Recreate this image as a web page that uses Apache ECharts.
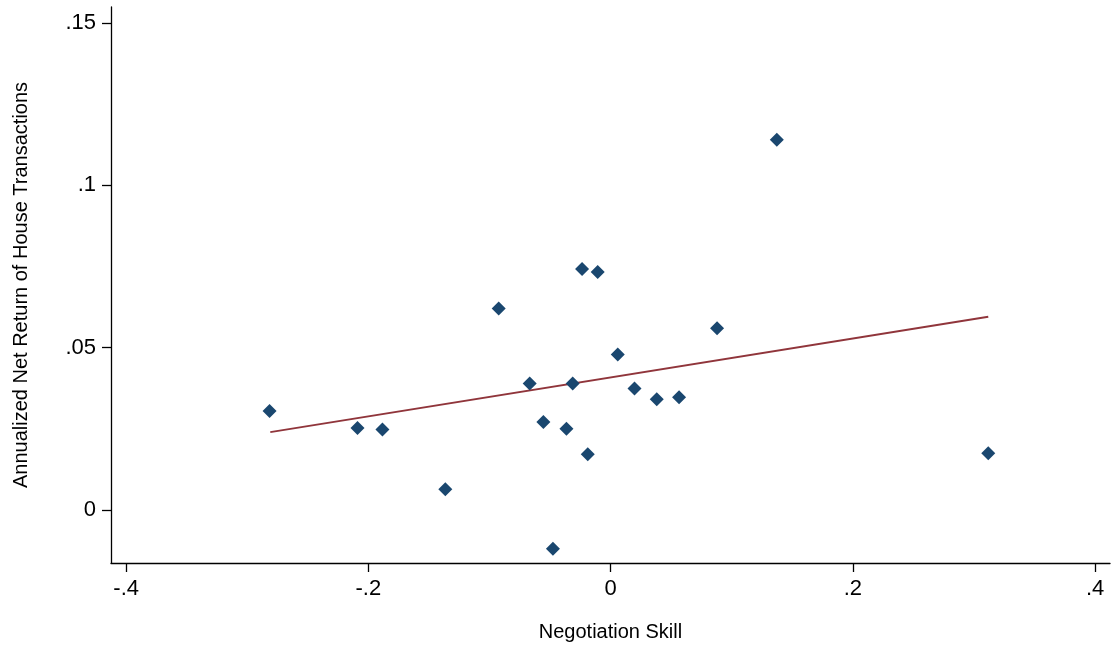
<!DOCTYPE html>
<html>
<head>
<meta charset="utf-8">
<script src="https://cdn.jsdelivr.net/npm/echarts@6/dist/echarts.min.js"></script>
<style>
html,body{margin:0;padding:0;background:#fff;}
#chart{width:1113px;height:648px;}
</style>
</head>
<body>
<div id="chart"></div>
<script>
// Scatter data: negotiation skill (x) vs annualized net return (y)
const skill = [-0.2816, -0.209, -0.1884, -0.1365, -0.0924, -0.0236, -0.0107, 0.0879, 0.0059, -0.0668, -0.0313, 0.0197, 0.0381, 0.0565, -0.0555, -0.0365, -0.0189, -0.0476, 0.1372, 0.3118];
const ret   = [0.0305, 0.0253, 0.0248, 0.0064, 0.0621, 0.0742, 0.0733, 0.0560, 0.0479, 0.0390, 0.0390, 0.0374, 0.0341, 0.0347, 0.0271, 0.0250, 0.0172, -0.0119, 0.1140, 0.0175];
// Fitted line endpoints
const fitX = [-0.281, 0.3118];
const fitY = [0.0240, 0.0595];
// Tick values
const xTicks = [-0.4, -0.2, 0, 0.2, 0.4];
const yTicks = [0, 0.05, 0.1, 0.15];

const fmt = v => {
  const s = String(+v.toFixed(4));
  return s.replace(/^(-?)0\./, '$1.');
};
const FONT = "'Liberation Sans', Arial, Helvetica, sans-serif";

const chart = echarts.init(document.getElementById('chart'), null, {renderer: 'canvas'});
chart.setOption({
  animation: false,
  backgroundColor: '#ffffff',
  grid: {left: 111, right: 3, top: 7, bottom: 85, containLabel: false},
  xAxis: {
    type: 'value',
    min: -0.4125, max: 0.4123,
    name: 'Negotiation Skill',
    nameLocation: 'middle',
    nameGap: 59,
    nameTextStyle: {fontFamily: FONT, fontSize: 20, color: '#000'},
    axisLine: {show: true, onZero: false, lineStyle: {color: '#000', width: 1.3}},
    axisTick: {show: true, length: 9, customValues: xTicks, lineStyle: {color: '#000', width: 1.3}},
    axisLabel: {customValues: xTicks, formatter: fmt, fontFamily: FONT, fontSize: 22, color: '#000', margin: 15},
    splitLine: {show: false}
  },
  yAxis: {
    type: 'value',
    min: -0.0163, max: 0.1549,
    name: 'Annualized Net Return of House Transactions',
    nameLocation: 'middle',
    nameGap: 80,
    nameTextStyle: {fontFamily: FONT, fontSize: 20, color: '#000'},
    axisLine: {show: true, onZero: false, lineStyle: {color: '#000', width: 1.3}},
    axisTick: {show: true, length: 9, customValues: yTicks, lineStyle: {color: '#000', width: 1.3}},
    axisLabel: {customValues: yTicks, formatter: fmt, fontFamily: FONT, fontSize: 22, color: '#000', margin: 15},
    splitLine: {show: false}
  },
  series: [
    {
      type: 'line',
      data: fitX.map((x, i) => [x, fitY[i]]),
      showSymbol: false,
      symbol: 'none',
      lineStyle: {color: '#90353b', width: 2},
      z: 2
    },
    {
      type: 'scatter',
      data: skill.map((x, i) => [x, ret[i]]),
      symbol: 'diamond',
      symbolSize: [14, 14],
      itemStyle: {color: '#1a476f', opacity: 1},
      z: 3
    }
  ]
});
</script>
</body>
</html>
